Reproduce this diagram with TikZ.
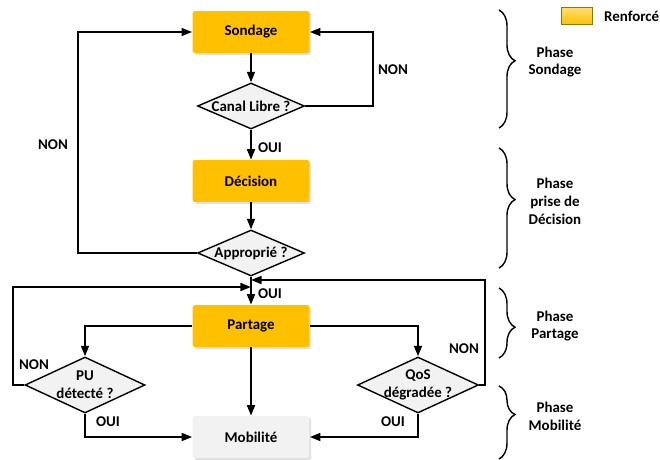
\documentclass[tikz,border=0pt]{standalone}
\usepackage{fontspec}
\setmainfont{Carlito}
\usepackage{xcolor}
\usetikzlibrary{arrows.meta, positioning, shapes.geometric, shadows, decorations.pathreplacing}
\definecolor{gold}{HTML}{FFC000}
\definecolor{lightgrey}{HTML}{F2F2F2}

\begin{document}
\begin{tikzpicture}[
    x=0.02cm, y=-0.02cm,
    txt/.style={font=\fontsize{8.5}{10.2}\selectfont\bfseries, align=center},
    block/.style={txt, rounded corners=1pt, minimum height=0.84cm, minimum width=2.34cm, drop shadow={opacity=0.25, shadow xshift=1pt, shadow yshift=-1pt}},
    decision/.style={diamond, draw, line width=0.8pt, fill=lightgrey, inner sep=0pt, minimum width=2.14cm, minimum height=0.92cm},
    arrow/.style={-{Triangle[length=6pt, width=4.5pt]}, line width=1.1pt},
    phasebrace/.style={decorate, decoration={brace, amplitude=0.32cm}, line width=0.8pt},
    phase/.style={txt},
    legend/.style={minimum width=0.62cm, minimum height=0.34cm, inner sep=0pt, line width=0.6pt}
]
    \useasboundingbox (0,0) rectangle (660,460);

    % flow
    \node[block, fill=gold] (sondage) at (251,32) {Sondage};
    \node[decision, label={[txt]center:Canal Libre ?}] (canal) at (251,106) {};
    \node[block, fill=gold] (decision) at (251,181) {Décision};
    \node[decision, label={[txt]center:Approprié ?}] (approprie) at (251,253) {};
    \node[block, fill=gold] (partage) at (251,326) {Partage};
    \node[decision, minimum width=2.4cm, minimum height=1.12cm, label={[txt]center:PU\\détecté ?}] (pu) at (85,385) {};
    \node[decision, minimum width=2.42cm, minimum height=1.12cm, label={[txt]center:QoS\\dégradée ?}] (qos) at (418,385) {};
    \node[block, fill=lightgrey] (mobilite) at (251,437) {Mobilité};

    \coordinate (joinR) at (251,280);
    \coordinate (joinL) at (251,287);

    \draw[arrow] (sondage) -- (canal);
    \draw[arrow] (canal) -- (decision);
    \draw[arrow] (decision) -- (approprie);
    \draw[arrow] (approprie) -- (partage);
    \draw[arrow] (canal.east) -- ++(68,0) |- (sondage.east);
    \draw[arrow] (approprie.west) -- ++(-119,0) |- (sondage.west);
    \draw[arrow] (partage.west) -| (pu.north);
    \draw[arrow] (partage.east) -| (qos.north);
    \draw[arrow] (partage) -- (mobilite);
    \draw[arrow] (pu.south) |- (mobilite.west);
    \draw[arrow] (qos.south) |- (mobilite.east);
    \draw[arrow] (pu.west) -- ++(-11,0) |- (joinL);
    \draw[arrow] (qos.east) -- ++(6,0) |- (joinR);

    \node[txt] (nonCanal) at (393,70) {NON};
    \node[txt] (nonApp) at (53,145) {NON};
    \node[txt] (ouiCanal) at (270,148) {OUI};
    \node[txt] (ouiApp) at (270,294) {OUI};
    \node[txt] (nonPU) at (34,365) {NON};
    \node[txt] (ouiPU) at (108,422) {OUI};
    \node[txt] (nonQoS) at (464,349) {NON};
    \node[txt] (ouiQoS) at (393,422) {OUI};

    % phases
    \draw[phasebrace, decoration={aspect=0.43}] (499,10) -- (499,128);
    \draw[phasebrace, decoration={aspect=0.43}] (499,148) -- (499,268);
    \draw[phasebrace, decoration={aspect=0.56}] (499,288) -- (499,358);
    \draw[phasebrace, decoration={aspect=0.39}] (499,386) -- (499,459);

    \node[phase] (phSondage) at (555,62) {Phase\\Sondage};
    \node[phase] (phDecision) at (555,201) {Phase\\prise de\\Décision};
    \node[phase] (phPartage) at (555,326) {Phase\\Partage};
    \node[phase] (phMobilite) at (555,416) {Phase\\Mobilité};

    \node[legend, top color=gold!55!white, bottom color=gold, draw=gold!60!black] (legende) at (577,16) {};
    \node[txt, right=0.1cm of legende] (renforce) {Renforcé};
\end{tikzpicture}
\end{document}
